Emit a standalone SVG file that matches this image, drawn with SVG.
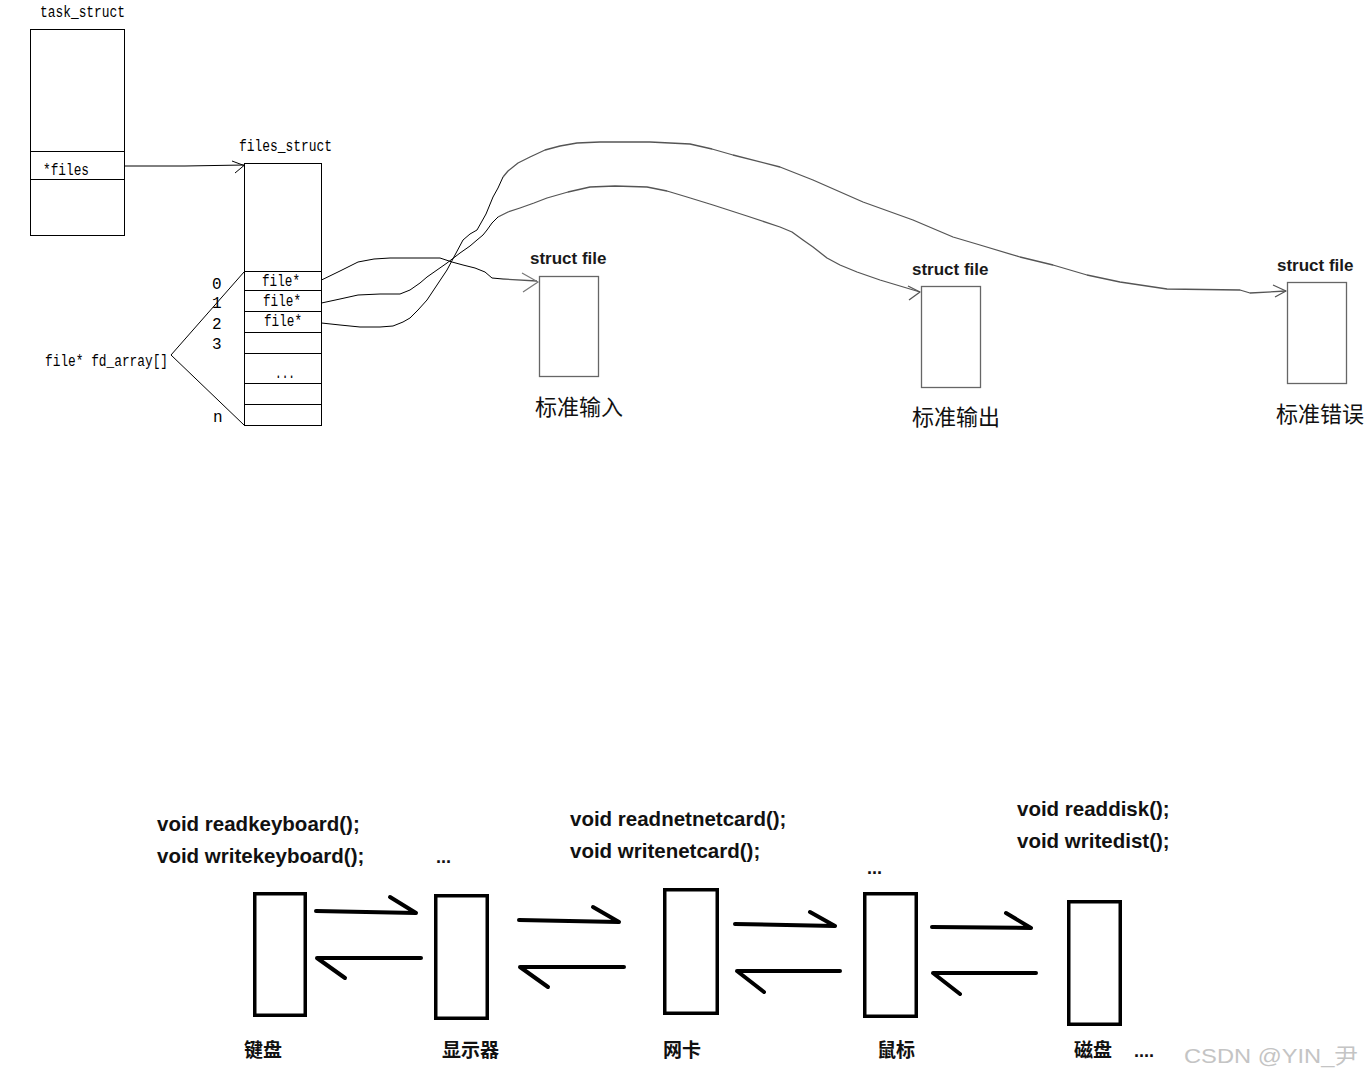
<svg xmlns="http://www.w3.org/2000/svg" width="1367" height="1078" viewBox="0 0 1367 1078">
<style>
.mono{font-family:"Liberation Mono","DejaVu Sans Mono",monospace;font-size:16px;fill:#000}
.lbl{font-family:"Liberation Sans","Noto Sans CJK SC",sans-serif;font-weight:bold;font-size:17px;fill:#1a1a1a}
.cn{font-family:"Noto Sans CJK SC",sans-serif;font-size:22px;fill:#111}
.code{font-family:"Liberation Sans","Noto Sans CJK SC",sans-serif;font-weight:bold;font-size:20.5px;fill:#111}
.cnb{font-family:"Noto Sans CJK SC",sans-serif;font-weight:bold;font-size:19px;fill:#111}
.dots{font-family:"Liberation Sans",sans-serif;font-weight:bold;font-size:18px;fill:#111}
.box1{fill:#fff;stroke:#000;stroke-width:1}
.sbox{fill:#fff;stroke:#666;stroke-width:1.3}
.dbox{fill:#fff;stroke:#000;stroke-width:3.5}
.wire{fill:none;stroke:#000;stroke-width:1;stroke-linejoin:round}
.arc{fill:none;stroke:#555;stroke-width:1.3;stroke-linejoin:round}
.ahead{fill:none;stroke:#777;stroke-width:1.2}
.thick{fill:none;stroke:#000;stroke-width:4;stroke-linecap:round;stroke-linejoin:round}
.wm{font-family:"Liberation Sans","Noto Sans CJK SC",sans-serif;font-size:21px;fill:#c4c4c4}
</style>
<rect width="1367" height="1078" fill="#fff"/>

<g id="task_struct">
<text class="mono" x="40" y="17" textLength="85" lengthAdjust="spacingAndGlyphs">task_struct</text>
<rect class="box1" x="30.5" y="29.5" width="94" height="206"/>
<line class="wire" x1="30.5" y1="151.5" x2="124.5" y2="151.5"/>
<line class="wire" x1="30.5" y1="179.5" x2="124.5" y2="179.5"/>
<text class="mono" x="43" y="175" textLength="46" lengthAdjust="spacingAndGlyphs">*files</text>
</g>

<g id="files_struct">
<text class="mono" x="239" y="151" textLength="93" lengthAdjust="spacingAndGlyphs">files_struct</text>
<rect class="box1" x="244.5" y="163.5" width="77" height="262"/>
<line class="wire" x1="244.5" y1="271.5" x2="321.5" y2="271.5"/>
<line class="wire" x1="244.5" y1="290.5" x2="321.5" y2="290.5"/>
<line class="wire" x1="244.5" y1="311.5" x2="321.5" y2="311.5"/>
<line class="wire" x1="244.5" y1="332.5" x2="321.5" y2="332.5"/>
<line class="wire" x1="244.5" y1="353.5" x2="321.5" y2="353.5"/>
<line class="wire" x1="244.5" y1="383.5" x2="321.5" y2="383.5"/>
<line class="wire" x1="244.5" y1="404.5" x2="321.5" y2="404.5"/>
<text class="mono" x="262" y="286" textLength="38" lengthAdjust="spacingAndGlyphs">file*</text>
<text class="mono" x="263" y="306" textLength="38" lengthAdjust="spacingAndGlyphs">file*</text>
<text class="mono" x="264" y="326" textLength="38" lengthAdjust="spacingAndGlyphs">file*</text>
<text class="mono" x="275" y="378" textLength="20" lengthAdjust="spacingAndGlyphs">...</text>
<text class="mono" x="212" y="289">0</text>
<text class="mono" x="212" y="308">1</text>
<text class="mono" x="212" y="329">2</text>
<text class="mono" x="212" y="349">3</text>
<text class="mono" x="213" y="422">n</text>
</g>

<g id="fd_array">
<text class="mono" x="45" y="366" textLength="123" lengthAdjust="spacingAndGlyphs">file* fd_array[]</text>
<polyline class="wire" points="244,272 171,355 244,425"/>
</g>

<g id="stdin">
<text class="lbl" x="530" y="264">struct file</text>
<rect class="sbox" x="539.5" y="276.5" width="59" height="100"/>
<text class="cn" x="535" y="415">标准输入</text>
</g>

<g id="stdout">
<text class="lbl" x="912" y="275">struct file</text>
<rect class="sbox" x="921.5" y="286.5" width="59" height="101"/>
<text class="cn" x="912" y="425">标准输出</text>
</g>

<g id="stderr">
<text class="lbl" x="1277" y="271">struct file</text>
<rect class="sbox" x="1287.5" y="282.5" width="59" height="101"/>
<text class="cn" x="1276" y="422">标准错误</text>
</g>

<g id="connectors">
<polyline class="wire" points="124.5,166 185,166 244,165"/>
<polyline class="wire" points="232,161 244,165.5 235,173"/>
<polyline class="wire" points="321.5,280 340,271 358,262 374,259 390,258 420,258 440,258 452,262 463,265 475,268 485,272 492,278 503,279"/>
<polyline class="arc" points="503,279 537,281"/>
<polyline class="ahead" points="522,273 538,282 523,292"/>
<polyline class="wire" points="321.5,303 340,299 358,295 380,294 400,294 410,290 420,283 427,277 437,270 447,263 460,253 470,246 477,240 483,235 487,230 492,223 498,217"/>
<polyline class="arc" points="498,217 508,212 520,208 534,203 547,198 568,192 590,187 615,186 647,187 667,191 687,197 713,205 747,216 780,227 792,232 803,240 813,247 827,258 840,265 857,272 880,280 920,292"/>
<polyline class="arc" points="908,286 920,292 909,300"/>
<polyline class="wire" points="321.5,323 340,325 360,327 380,327 393,326 403,322 410,318 418,310 427,300 437,285 447,270 455,255 463,240 470,234 477,230 486,214 493,197 498,188 503,177"/>
<polyline class="arc" points="503,177 508,171 518,163 530,157 545,150 560,146 577,143 600,142 650,142 690,144 712,149 733,155 780,167 813,180 863,202 913,220 953,237 980,245 1020,257 1053,265 1087,275 1120,282 1167,289 1240,290 1250,293 1286,291"/>
<polyline class="arc" points="1273,285 1286,291 1275,297"/>

<path class="thick" d="M316,911 L416,913 M390,897 L416,913"/>
<path class="thick" d="M421,958 L317,958 L345,978"/>
<path class="thick" d="M519,920 L619,922 M593,907 L619,922"/>
<path class="thick" d="M624,967 L520,967 L548,987"/>
<path class="thick" d="M735,924 L835,926 M810,912 L835,926"/>
<path class="thick" d="M840,971 L737,971 L764,992"/>
<path class="thick" d="M932,927 L1031,928 M1006,913 L1031,928"/>
<path class="thick" d="M1036,973 L933,973 L960,994"/>
</g>

<g id="keyboard">
<text class="code" x="157" y="831">void readkeyboard();</text>
<text class="code" x="157" y="863">void writekeyboard();</text>
<rect class="dbox" x="254.75" y="893.75" width="50.5" height="121.5"/>
<text class="cnb" x="244" y="1057">键盘</text>
</g>

<g id="display">
<text class="dots" x="436" y="863">...</text>
<rect class="dbox" x="435.75" y="895.75" width="51.5" height="122.5"/>
<text class="cnb" x="442" y="1057">显示器</text>
</g>

<g id="netcard">
<text class="code" x="570" y="826">void readnetnetcard();</text>
<text class="code" x="570" y="858">void writenetcard();</text>
<rect class="dbox" x="664.75" y="889.75" width="52.5" height="123.5"/>
<text class="cnb" x="663" y="1057">网卡</text>
</g>

<g id="mouse">
<text class="dots" x="867" y="874">...</text>
<rect class="dbox" x="864.75" y="893.75" width="51.5" height="122.5"/>
<text class="cnb" x="877" y="1057">鼠标</text>
</g>

<g id="disk">
<text class="code" x="1017" y="816">void readdisk();</text>
<text class="code" x="1017" y="848">void writedist();</text>
<rect class="dbox" x="1068.75" y="901.75" width="51.5" height="122.5"/>
<text class="cnb" x="1074" y="1057">磁盘</text>
<text class="dots" x="1134" y="1057">....</text>
</g>

<text class="wm" x="1184" y="1063" textLength="174" lengthAdjust="spacingAndGlyphs">CSDN @YIN_尹</text>
</svg>
